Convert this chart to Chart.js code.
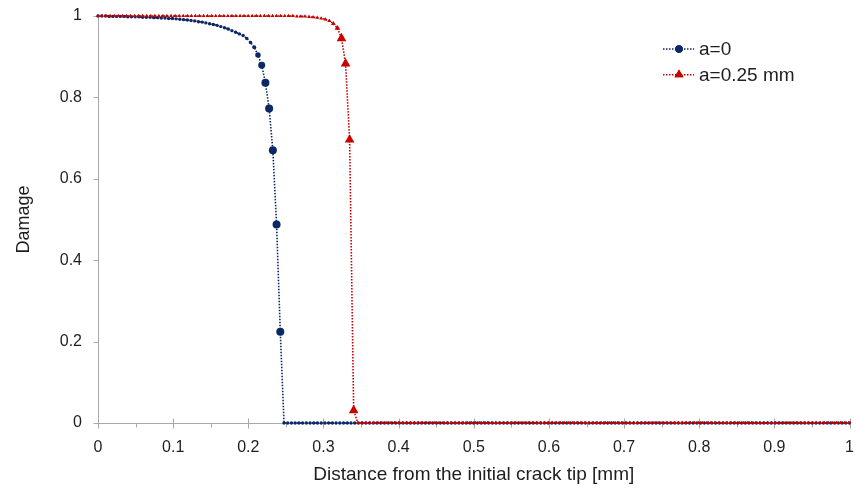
<!DOCTYPE html>
<html>
<head>
<meta charset="utf-8">
<script src="https://cdn.jsdelivr.net/npm/chart.js@4/dist/chart.umd.min.js"></script>
<style>
  html, body { margin: 0; padding: 0; background: #ffffff; }
  #wrap { width: 856px; height: 495px; }
</style>
</head>
<body>
<div id="wrap"><canvas id="c" width="856" height="495"></canvas></div>
<script>
// Damage profile ahead of the initial crack tip, sampled on uniform meshes.
const seriesNames = ['a=0', 'a=0.25 mm'];
const meshStepA0 = 0.00495;   // node spacing [mm], a = 0
const meshStepA25 = 0.0054;   // node spacing [mm], a = 0.25 mm

const damageA0 = [
  1.000, 1.000, 1.000, 0.999, 0.999, 0.999, 0.999, 0.999, 0.998, 0.998,
  0.998, 0.998, 0.997, 0.997, 0.997, 0.996, 0.996, 0.995, 0.995, 0.994,
  0.994, 0.993, 0.992, 0.991, 0.990, 0.989, 0.988, 0.986, 0.985, 0.983,
  0.981, 0.979, 0.977, 0.974, 0.971, 0.968, 0.964, 0.960, 0.956, 0.952,
  0.945, 0.935, 0.923, 0.904, 0.879, 0.836, 0.773, 0.670, 0.488, 0.224,
  0,
  0, 0, 0, 0, 0, 0, 0, 0, 0, 0, 0, 0, 0, 0, 0, 0, 0, 0, 0, 0,
  0, 0, 0, 0, 0, 0, 0, 0, 0, 0, 0, 0, 0, 0, 0, 0, 0, 0, 0, 0,
  0, 0, 0, 0, 0, 0, 0, 0, 0, 0, 0, 0, 0, 0, 0, 0, 0, 0, 0, 0,
  0, 0, 0, 0, 0, 0, 0, 0, 0, 0, 0, 0, 0, 0, 0, 0, 0, 0, 0, 0,
  0, 0, 0, 0, 0, 0, 0, 0, 0, 0, 0, 0, 0, 0, 0, 0, 0, 0, 0, 0,
  0, 0, 0, 0, 0, 0, 0, 0, 0, 0, 0, 0, 0, 0, 0, 0, 0, 0, 0, 0,
  0, 0, 0, 0, 0, 0, 0, 0, 0, 0, 0, 0, 0, 0, 0, 0, 0, 0, 0, 0,
  0, 0, 0, 0, 0, 0, 0, 0, 0, 0, 0, 0
];

const damageA25 = [
  1, 1, 1, 1, 1, 1, 1, 1, 1, 1, 1, 1, 1, 1, 1, 1, 1, 1, 1, 1,
  1, 1, 1, 1, 1, 1, 1, 1, 1, 1, 1, 1, 1, 1, 1, 1, 1, 1, 1, 1,
  1, 1, 1, 1, 1, 1,
  1.000, 1.000, 1.000, 0.999, 0.999, 0.999, 0.998, 0.997, 0.996, 0.994,
  0.992, 0.988, 0.981, 0.970, 0.945, 0.883, 0.696, 0.031, 0,
  0, 0, 0, 0, 0, 0, 0, 0, 0, 0, 0, 0, 0, 0, 0, 0, 0, 0, 0, 0,
  0, 0, 0, 0, 0, 0, 0, 0, 0, 0, 0, 0, 0, 0, 0, 0, 0, 0, 0, 0,
  0, 0, 0, 0, 0, 0, 0, 0, 0, 0, 0, 0, 0, 0, 0, 0, 0, 0, 0, 0,
  0, 0, 0, 0, 0, 0, 0, 0, 0, 0, 0, 0, 0, 0, 0, 0, 0, 0, 0, 0,
  0, 0, 0, 0, 0, 0, 0, 0, 0, 0, 0, 0, 0, 0, 0, 0, 0, 0, 0, 0,
  0, 0, 0, 0, 0, 0, 0, 0, 0, 0, 0, 0, 0, 0, 0, 0, 0, 0, 0, 0,
  0
];

const xTicks = [0, 0.1, 0.2, 0.3, 0.4, 0.5, 0.6, 0.7, 0.8, 0.9, 1];
const xMinorTicks = [0.05, 0.15, 0.25, 0.35, 0.45, 0.55, 0.65, 0.75, 0.85, 0.95];
const yTicks = [0, 0.2, 0.4, 0.6, 0.8, 1];

const xTitle = 'Distance from the initial crack tip [mm]';
const yTitle = 'Damage';

const blue = '#0b2766';
const red = '#c80000';
const axisGrey = '#a8a8a8';
const textColor = '#1e1e1e';
const fontFamily = "'Liberation Sans', Arial, sans-serif";

const toPoints = (values, step) => values.map((v, i) => ({ x: i * step, y: v }));

// Marker size follows how far apart neighbouring points sit on screen:
// dense flat stretches get tiny dots, the steep drop gets full markers.
function spacingRadius(minR, maxR, k) {
  return (ctx) => {
    if (ctx.type !== 'data') return minR;
    const chart = ctx.chart;
    const xs = chart.scales.x, ys = chart.scales.y;
    const data = ctx.dataset.data;
    const i = ctx.dataIndex;
    const pix = p => [xs.getPixelForValue(p.x), ys.getPixelForValue(p.y)];
    const [x0, y0] = pix(data[i]);
    let d = Infinity;
    for (const j of [i - 1, i + 1]) {
      if (j >= 0 && j < data.length) {
        const [x1, y1] = pix(data[j]);
        d = Math.min(d, Math.hypot(x1 - x0, y1 - y0));
      }
    }
    const r = Math.max(minR, Math.min(maxR, d * k));
    return Number.isFinite(r) ? r : minR;
  };
}

// Axis lines with crossing major ticks on x, outside minor ticks, outside ticks on y.
const axesPlugin = {
  id: 'plainAxes',
  beforeDatasetsDraw(chart) {
    const { ctx, scales: { x, y } } = chart;
    const snap = v => Math.round(v) + 0.5;
    const xl = snap(x.getPixelForValue(0));
    const xr = x.getPixelForValue(1);
    const yb = snap(y.getPixelForValue(0));
    const yt = y.getPixelForValue(1);
    ctx.save();
    ctx.strokeStyle = axisGrey;
    ctx.lineWidth = 1;
    ctx.beginPath();
    ctx.moveTo(xl, yt); ctx.lineTo(xl, yb);
    yTicks.forEach(v => {
      const yy = snap(y.getPixelForValue(v));
      ctx.moveTo(xl - 5, yy); ctx.lineTo(xl, yy);
    });
    ctx.moveTo(xl, yb); ctx.lineTo(xr, yb);
    xTicks.forEach(v => {
      const xx = snap(x.getPixelForValue(v));
      ctx.moveTo(xx, yb - 5); ctx.lineTo(xx, yb + 5);
    });
    xMinorTicks.forEach(v => {
      const xx = snap(x.getPixelForValue(v));
      ctx.moveTo(xx, yb); ctx.lineTo(xx, yb + 4);
    });
    ctx.stroke();
    ctx.restore();
  }
};

// Series key: dotted line sample with the marker in its middle.
const keyPlugin = {
  id: 'seriesKey',
  afterDraw(chart) {
    const { ctx, chartArea } = chart;
    const left = chartArea.left + 565;
    const rows = [
      { y: chartArea.top + 33, color: blue, style: 'circle', r: 3.8, label: seriesNames[0] },
      { y: chartArea.top + 58.7, color: red, style: 'triangle', r: 5.2, label: seriesNames[1] }
    ];
    ctx.save();
    rows.forEach(row => {
      ctx.strokeStyle = row.color;
      ctx.lineWidth = 1.5;
      ctx.setLineDash([1.5, 1.5]);
      ctx.beginPath();
      ctx.moveTo(left, row.y);
      ctx.lineTo(left + 31, row.y);
      ctx.stroke();
      ctx.setLineDash([]);
      ctx.fillStyle = row.color;
      Chart.helpers.drawPoint(ctx, { pointStyle: row.style, radius: row.r, rotation: 0, borderWidth: 0 }, left + 16, row.y);
      ctx.fill();
      ctx.fillStyle = textColor;
      ctx.font = '19px ' + fontFamily;
      ctx.textAlign = 'left';
      ctx.textBaseline = 'middle';
      ctx.fillText(row.label, left + 36, row.y + 1);
    });
    ctx.restore();
  }
};

new Chart(document.getElementById('c'), {
  type: 'line',
  data: {
    datasets: [
      {
        label: seriesNames[0],
        data: toPoints(damageA0, meshStepA0),
        borderColor: blue,
        borderWidth: 1.6,
        borderDash: [1.5, 1.5],
        backgroundColor: blue,
        pointBackgroundColor: blue,
        pointBorderWidth: 0,
        pointStyle: 'circle',
        pointRadius: spacingRadius(1.7, 4.0, 0.32),
        tension: 0,
        clip: false,
        order: 2
      },
      {
        label: seriesNames[1],
        data: toPoints(damageA25, meshStepA25),
        borderColor: red,
        borderWidth: 1.6,
        borderDash: [1.5, 1.5],
        backgroundColor: red,
        pointBackgroundColor: red,
        pointBorderWidth: 0,
        pointStyle: 'triangle',
        pointRadius: spacingRadius(2.1, 5.6, 0.55),
        tension: 0,
        clip: false,
        order: 1
      }
    ]
  },
  options: {
    responsive: false,
    animation: false,
    events: [],
    layout: { padding: { top: 16, right: 6, left: 0, bottom: 0 } },
    plugins: {
      legend: { display: false },
      tooltip: { enabled: false }
    },
    scales: {
      x: {
        type: 'linear',
        min: 0,
        max: 1,
        grid: { display: false, drawTicks: true, tickLength: 13 },
        border: { display: false },
        afterBuildTicks: scale => { scale.ticks = xTicks.map(v => ({ value: v })); },
        afterFit: scale => { scale.height = 72; },
        ticks: {
          callback: v => String(v),
          font: { size: 16, family: fontFamily },
          color: textColor,
          padding: 2,
          maxRotation: 0
        },
        title: {
          display: true,
          text: xTitle,
          font: { size: 19, family: fontFamily },
          color: textColor,
          padding: { top: 0, bottom: 9 }
        }
      },
      y: {
        type: 'linear',
        min: 0,
        max: 1,
        grid: { display: false, drawTicks: true, tickLength: 14 },
        border: { display: false },
        afterBuildTicks: scale => { scale.ticks = yTicks.map(v => ({ value: v })); },
        afterFit: scale => { scale.width = 98; },
        ticks: {
          callback: v => String(v),
          font: { size: 16, family: fontFamily },
          color: textColor,
          padding: 2
        },
        title: {
          display: true,
          text: yTitle,
          font: { size: 18, family: fontFamily },
          color: textColor,
          padding: { top: 13, bottom: 0 }
        }
      }
    }
  },
  plugins: [axesPlugin, keyPlugin]
});
</script>
</body>
</html>
